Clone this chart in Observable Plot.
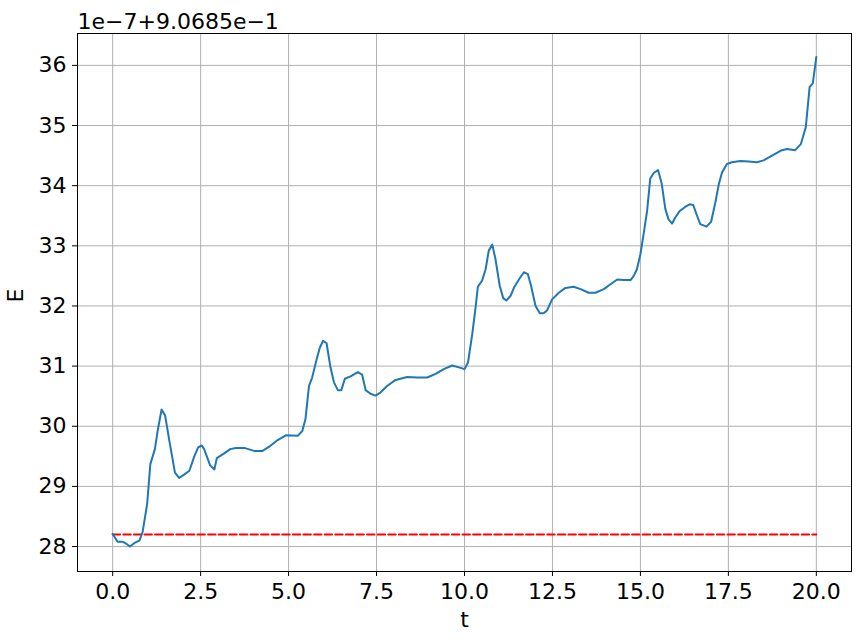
<!DOCTYPE html>
<html>
<head>
<meta charset="utf-8">
<script src="https://cdn.jsdelivr.net/npm/d3@7"></script>
<script src="https://cdn.jsdelivr.net/npm/@observablehq/plot@0.6"></script>
<style>
  body { margin: 0; background: #fff; }
  svg { font-family: "DejaVu Sans", sans-serif; }
</style>
</head>
<body>
<div id="chart"></div>
<script>
const tValues = [0, 0.14, 0.28, 0.38, 0.49, 0.62, 0.76, 0.85, 0.98, 1.07, 1.2, 1.28, 1.39, 1.49, 1.61, 1.77, 1.89, 2.04, 2.18, 2.32, 2.43, 2.53, 2.6, 2.77, 2.89, 2.96, 3.17, 3.34, 3.5, 3.74, 4.02, 4.26, 4.45, 4.69, 4.92, 5.26, 5.39, 5.48, 5.58, 5.67, 5.8, 5.89, 5.98, 6.08, 6.19, 6.29, 6.4, 6.5, 6.6, 6.76, 6.97, 7.09, 7.19, 7.33, 7.47, 7.61, 7.8, 8.04, 8.37, 8.66, 8.94, 9.18, 9.41, 9.65, 9.89, 10.0, 10.1, 10.22, 10.31, 10.38, 10.5, 10.6, 10.69, 10.79, 10.88, 11.0, 11.1, 11.19, 11.31, 11.42, 11.57, 11.69, 11.8, 11.89, 12.02, 12.14, 12.25, 12.35, 12.49, 12.68, 12.87, 13.1, 13.3, 13.53, 13.72, 13.96, 14.15, 14.34, 14.53, 14.72, 14.81, 14.9, 15.0, 15.09, 15.19, 15.28, 15.38, 15.5, 15.6, 15.71, 15.8, 15.9, 15.99, 16.12, 16.28, 16.4, 16.5, 16.61, 16.7, 16.88, 17.01, 17.13, 17.23, 17.32, 17.46, 17.6, 17.84, 18.08, 18.31, 18.5, 18.74, 19.02, 19.17, 19.4, 19.56, 19.7, 19.81, 19.9, 20.0];
const eValues = [28.21, 28.08, 28.08, 28.05, 28.0, 28.06, 28.1, 28.24, 28.71, 29.37, 29.62, 29.93, 30.28, 30.18, 29.76, 29.23, 29.14, 29.2, 29.26, 29.5, 29.65, 29.68, 29.62, 29.35, 29.28, 29.47, 29.55, 29.62, 29.64, 29.64, 29.59, 29.59, 29.66, 29.77, 29.85, 29.84, 29.92, 30.12, 30.67, 30.81, 31.12, 31.31, 31.42, 31.38, 30.98, 30.73, 30.6, 30.6, 30.79, 30.83, 30.9, 30.86, 30.6, 30.54, 30.51, 30.56, 30.67, 30.77, 30.82, 30.81, 30.81, 30.87, 30.95, 31.01, 30.97, 30.95, 31.06, 31.53, 31.95, 32.32, 32.42, 32.61, 32.92, 33.02, 32.78, 32.34, 32.13, 32.09, 32.17, 32.32, 32.46, 32.56, 32.53, 32.34, 32.0, 31.88, 31.88, 31.93, 32.11, 32.22, 32.3, 32.32, 32.28, 32.22, 32.22, 32.28, 32.36, 32.44, 32.43, 32.43, 32.5, 32.61, 32.86, 33.19, 33.58, 34.12, 34.21, 34.26, 34.05, 33.61, 33.44, 33.37, 33.47, 33.58, 33.65, 33.69, 33.68, 33.5, 33.36, 33.32, 33.4, 33.72, 34.03, 34.22, 34.36, 34.39, 34.41, 34.4, 34.39, 34.42, 34.5, 34.59, 34.61, 34.59, 34.69, 34.97, 35.64, 35.7, 36.14];
const refT = [0, 20];
const refE = [28.2, 28.2];
const xTicks = [0, 2.5, 5, 7.5, 10, 12.5, 15, 17.5, 20];
const yTicks = [28, 29, 30, 31, 32, 33, 34, 35, 36];
const offsetText = "1e\u22127+9.0685e\u22121";
const xLabel = "t";
const yLabel = "E";

const series = tValues.map((t, i) => ({t, e: eValues[i]}));
const ref = refT.map((t, i) => ({t, e: refE[i]}));

const chart = Plot.plot({
  width: 861,
  height: 642,
  marginLeft: 77,
  marginRight: 10,
  marginTop: 33,
  marginBottom: 71,
  style: {fontFamily: "DejaVu Sans, sans-serif", background: "#fff"},
  x: {domain: [-1, 21]},
  y: {domain: [27.585, 36.53]},
  marks: [
    Plot.gridX(xTicks, {stroke: "#b0b0b0", strokeOpacity: 1, strokeWidth: 1}),
    Plot.gridY(yTicks, {stroke: "#b0b0b0", strokeOpacity: 1, strokeWidth: 1}),
    Plot.axisX({ticks: xTicks, tickFormat: d => d.toFixed(1), tickSize: 5, tickPadding: 7, fontSize: 22, label: null, stroke: "#000", color: "#000"}),
    Plot.axisY({ticks: yTicks, tickFormat: d => String(d), tickSize: 5, tickPadding: 6, fontSize: 22, label: null, stroke: "#000", color: "#000"}),
    Plot.line(ref, {x: "t", y: "e", stroke: "red", strokeWidth: 2, strokeDasharray: "7.4,3.2"}),
    Plot.line(series, {x: "t", y: "e", stroke: "#1f77b4", strokeWidth: 2}),
    Plot.frame({stroke: "#000", strokeWidth: 1}),
    Plot.text([offsetText], {frameAnchor: "top-left", textAnchor: "start", lineAnchor: "middle", dy: -12, fontSize: 22, fill: "#000"}),
    Plot.text([xLabel], {frameAnchor: "bottom", lineAnchor: "middle", dy: 48, fontSize: 22, fill: "#000"}),
    Plot.text([yLabel], {frameAnchor: "left", rotate: -90, dx: -62, fontSize: 22, fill: "#000"})
  ]
});
document.getElementById("chart").appendChild(chart);
</script>
</body>
</html>
